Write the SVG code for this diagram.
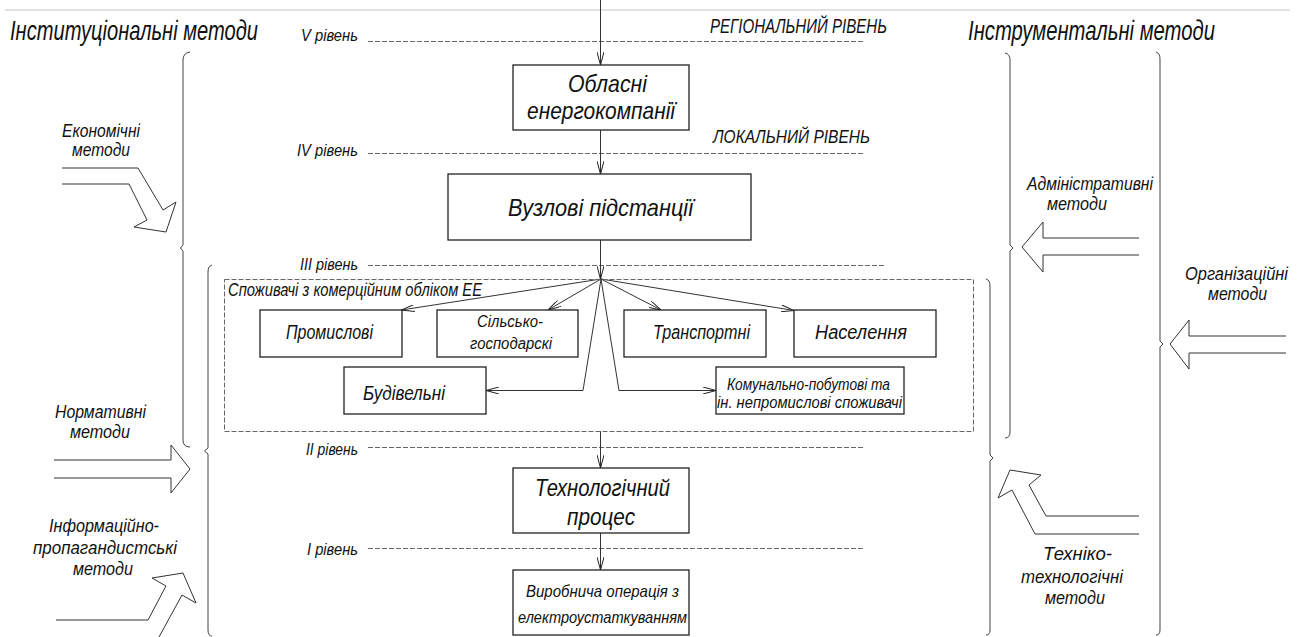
<svg xmlns="http://www.w3.org/2000/svg" width="1302" height="637" viewBox="0 0 1302 637">
<style>
text{font-family:"Liberation Sans","DejaVu Sans",sans-serif;font-style:italic;fill:#111;}
.t28{font-size:28px}.t24{font-size:24px}.t22{font-size:21px}.t20{font-size:20px}.t18{font-size:18px}.t17{font-size:17px}.t16{font-size:16px}
.box{fill:#fff;stroke:#222;stroke-width:1.3}
.lvl{stroke:#666;stroke-width:1;stroke-dasharray:5,2;fill:none}
.con{stroke:#333;stroke-width:1;fill:none}
.brace{stroke:#444;stroke-width:1;fill:none}
.blk{stroke:#333;stroke-width:1;fill:none;stroke-linejoin:miter}
</style>
<defs>
<marker id="ah" viewBox="0 0 13 7" refX="13" refY="3.5" markerWidth="13" markerHeight="7" markerUnits="userSpaceOnUse" orient="auto">
<path d="M0,0 L13,3.5 L0,7" fill="none" stroke="#222" stroke-width="1"/>
</marker>
</defs>
<rect width="1302" height="637" fill="#fff"/>
<line x1="5" y1="10" x2="1290" y2="10" stroke="#c8c8c8" stroke-width="1.2"/>

<g id="titles">
<text class="t28" x="10" y="40" textLength="248" lengthAdjust="spacingAndGlyphs">Інституціональні методи</text>
<text class="t28" x="968" y="40" textLength="247" lengthAdjust="spacingAndGlyphs">Інструментальні методи</text>
<text class="t22" x="710" y="33" textLength="177" lengthAdjust="spacingAndGlyphs">РЕГІОНАЛЬНИЙ РІВЕНЬ</text>
<text class="t18" x="713" y="143" textLength="157" lengthAdjust="spacingAndGlyphs">ЛОКАЛЬНИЙ РІВЕНЬ</text>
</g>

<g id="levels">
<text class="t17" x="301" y="41" textLength="57" lengthAdjust="spacingAndGlyphs">V рівень</text>
<line class="lvl" x1="368" y1="41.5" x2="864" y2="41.5"/>
<text class="t17" x="297" y="156" textLength="61" lengthAdjust="spacingAndGlyphs">IV рівень</text>
<line class="lvl" x1="368" y1="153.5" x2="865" y2="153.5"/>
<text class="t17" x="300" y="270" textLength="58" lengthAdjust="spacingAndGlyphs">III рівень</text>
<line class="lvl" x1="368" y1="265.5" x2="884" y2="265.5"/>
<text class="t17" x="306" y="455" textLength="52" lengthAdjust="spacingAndGlyphs">II рівень</text>
<line class="lvl" x1="368" y1="447.5" x2="865" y2="447.5"/>
<text class="t17" x="307" y="555" textLength="51" lengthAdjust="spacingAndGlyphs">I рівень</text>
<line class="lvl" x1="368" y1="548.5" x2="865" y2="548.5"/>
</g>

<g id="braces">
<path class="brace" d="M190,52 Q183,53 183,60 L183,245 L180.5,248 L183,251 L183,440 Q183,447 190,447"/>
<path class="brace" d="M212,265 Q208,266 208,272 L208,448 L204.5,451 L208,454 L208,630 Q208,636 212,636"/>
<path class="brace" d="M1005,53 Q1010,54 1010,60 L1010,245 L1013,248 L1010,251 L1010,432 Q1010,438 1005,438"/>
<path class="brace" d="M986,279 Q990,280 990,286 L990,455 L993,458 L990,461 L990,630 Q990,635 986,635"/>
<path class="brace" d="M1156,52 Q1160,53 1160,59 L1160,341 L1163,344 L1160,347 L1160,630 Q1160,635 1156,635"/>
</g>

<g id="method-arrows">
<path class="blk" d="M62,168 L138,168 L163,210 L176,202 L166,232 L134,227 L147,220 L129,184 L62,184"/>
<path class="blk" d="M54,460 L171,460 L171,445 L190,469 L171,493 L171,478 L54,478"/>
<path class="blk" d="M56,620 L148,620 L166,586 L152,578 L183,573 L196,603 L182,595 L159,637"/>
<path class="blk" d="M1139,238 L1043,238 L1043,222 L1022,247 L1043,272 L1043,255 L1139,255"/>
<path class="blk" d="M1286,336 L1189,336 L1189,320 L1170,344 L1189,369 L1189,353 L1286,353"/>
<path class="blk" d="M1139,516 L1046,516 L1029,485 L1041,475 L1010,470 L998,498 L1012,490 L1035,534 L1139,534"/>
</g>

<g id="method-labels">
<text class="t18" x="62" y="137" textLength="78" lengthAdjust="spacingAndGlyphs">Економічні</text>
<text class="t18" x="72" y="156" textLength="58" lengthAdjust="spacingAndGlyphs">методи</text>
<text class="t18" x="55" y="418" textLength="91" lengthAdjust="spacingAndGlyphs">Нормативні</text>
<text class="t18" x="70" y="438" textLength="60" lengthAdjust="spacingAndGlyphs">методи</text>
<text class="t18" x="49" y="532" textLength="110" lengthAdjust="spacingAndGlyphs">Інформаційно-</text>
<text class="t18" x="33" y="554" textLength="144" lengthAdjust="spacingAndGlyphs">пропагандистські</text>
<text class="t18" x="73" y="575" textLength="60" lengthAdjust="spacingAndGlyphs">методи</text>
<text class="t18" x="1027" y="190" textLength="126" lengthAdjust="spacingAndGlyphs">Адміністративні</text>
<text class="t18" x="1047" y="210" textLength="60" lengthAdjust="spacingAndGlyphs">методи</text>
<text class="t18" x="1185" y="280" textLength="103" lengthAdjust="spacingAndGlyphs">Організаційні</text>
<text class="t18" x="1208" y="300" textLength="59" lengthAdjust="spacingAndGlyphs">методи</text>
<text class="t18" x="1043" y="560" textLength="69" lengthAdjust="spacingAndGlyphs">Техніко-</text>
<text class="t18" x="1021" y="583" textLength="102" lengthAdjust="spacingAndGlyphs">технологічні</text>
<text class="t18" x="1045" y="604" textLength="60" lengthAdjust="spacingAndGlyphs">методи</text>
</g>

<g id="connectors">
<line class="con" x1="600.5" y1="0" x2="600.5" y2="65" marker-end="url(#ah)"/>
<line class="con" x1="600.5" y1="130" x2="600.5" y2="174" marker-end="url(#ah)"/>
<line class="con" x1="600.5" y1="240" x2="600.5" y2="279" marker-end="url(#ah)"/>
<line class="con" x1="601" y1="279" x2="401.5" y2="310" marker-end="url(#ah)"/>
<line class="con" x1="601" y1="279" x2="548" y2="310" marker-end="url(#ah)"/>
<line class="con" x1="601" y1="279" x2="661" y2="310" marker-end="url(#ah)"/>
<line class="con" x1="601" y1="279" x2="794" y2="310.5" marker-end="url(#ah)"/>
<polyline class="con" points="601,279 583,390.5 486,390.5" marker-end="url(#ah)"/>
<polyline class="con" points="601,279 619,390.5 716,390.5" marker-end="url(#ah)"/>
<line class="con" x1="600.5" y1="431" x2="600.5" y2="468" marker-end="url(#ah)"/>
<line class="con" x1="600.5" y1="533" x2="600.5" y2="570" marker-end="url(#ah)"/>
</g>

<g id="node-oblasni">
<rect class="box" x="513" y="65" width="176" height="65"/>
<text class="t24" x="568" y="92" textLength="79" lengthAdjust="spacingAndGlyphs">Обласні</text>
<text class="t24" x="527" y="119" textLength="148" lengthAdjust="spacingAndGlyphs">енергокомпанії</text>
</g>

<g id="node-vuzlovi">
<rect class="box" x="448" y="174" width="303" height="66"/>
<text class="t24" x="508" y="216" textLength="185" lengthAdjust="spacingAndGlyphs">Вузлові підстанції</text>
</g>

<g id="group-spozhyvachi">
<rect x="224.5" y="279.5" width="749" height="152" fill="none" stroke="#666" stroke-width="1" stroke-dasharray="5,2"/>
<text class="t18" x="228" y="296" textLength="254" lengthAdjust="spacingAndGlyphs">Споживачі з комерційним обліком ЕЕ</text>
</g>

<g id="node-promyslovi">
<rect class="box" x="260" y="310" width="142" height="47"/>
<text class="t20" x="286" y="339" textLength="87" lengthAdjust="spacingAndGlyphs">Промислові</text>
</g>
<g id="node-silsko">
<rect class="box" x="437" y="310" width="141" height="47"/>
<text class="t16" x="477" y="327" textLength="66" lengthAdjust="spacingAndGlyphs">Сільсько-</text>
<text class="t16" x="470" y="349" textLength="82" lengthAdjust="spacingAndGlyphs">господарскі</text>
</g>
<g id="node-transportni">
<rect class="box" x="624" y="310" width="142" height="47"/>
<text class="t20" x="653" y="339" textLength="97" lengthAdjust="spacingAndGlyphs">Транспортні</text>
</g>
<g id="node-naselennia">
<rect class="box" x="794" y="310" width="142" height="47"/>
<text class="t20" x="815" y="339" textLength="92" lengthAdjust="spacingAndGlyphs">Населення</text>
</g>
<g id="node-budivelni">
<rect class="box" x="344" y="367" width="142" height="47"/>
<text class="t20" x="363" y="400" textLength="82" lengthAdjust="spacingAndGlyphs">Будівельні</text>
</g>
<g id="node-komunalno">
<rect class="box" x="716" y="367" width="188" height="47"/>
<text class="t16" x="727" y="390" textLength="163" lengthAdjust="spacingAndGlyphs">Комунально-побутові та</text>
<text class="t16" x="717" y="408" textLength="185" lengthAdjust="spacingAndGlyphs">ін. непромислові споживачі</text>
</g>

<g id="node-tekhprotses">
<rect class="box" x="513" y="468" width="176" height="65"/>
<text class="t24" x="535" y="496" textLength="135" lengthAdjust="spacingAndGlyphs">Технологічний</text>
<text class="t24" x="567" y="525" textLength="68" lengthAdjust="spacingAndGlyphs">процес</text>
</g>

<g id="node-vyrobnycha">
<rect class="box" x="513" y="570" width="176" height="65"/>
<text class="t17" x="526" y="597" textLength="153" lengthAdjust="spacingAndGlyphs">Виробнича операція з</text>
<text class="t17" x="518" y="623" textLength="169" lengthAdjust="spacingAndGlyphs">електроустаткуванням</text>
</g>
</svg>
